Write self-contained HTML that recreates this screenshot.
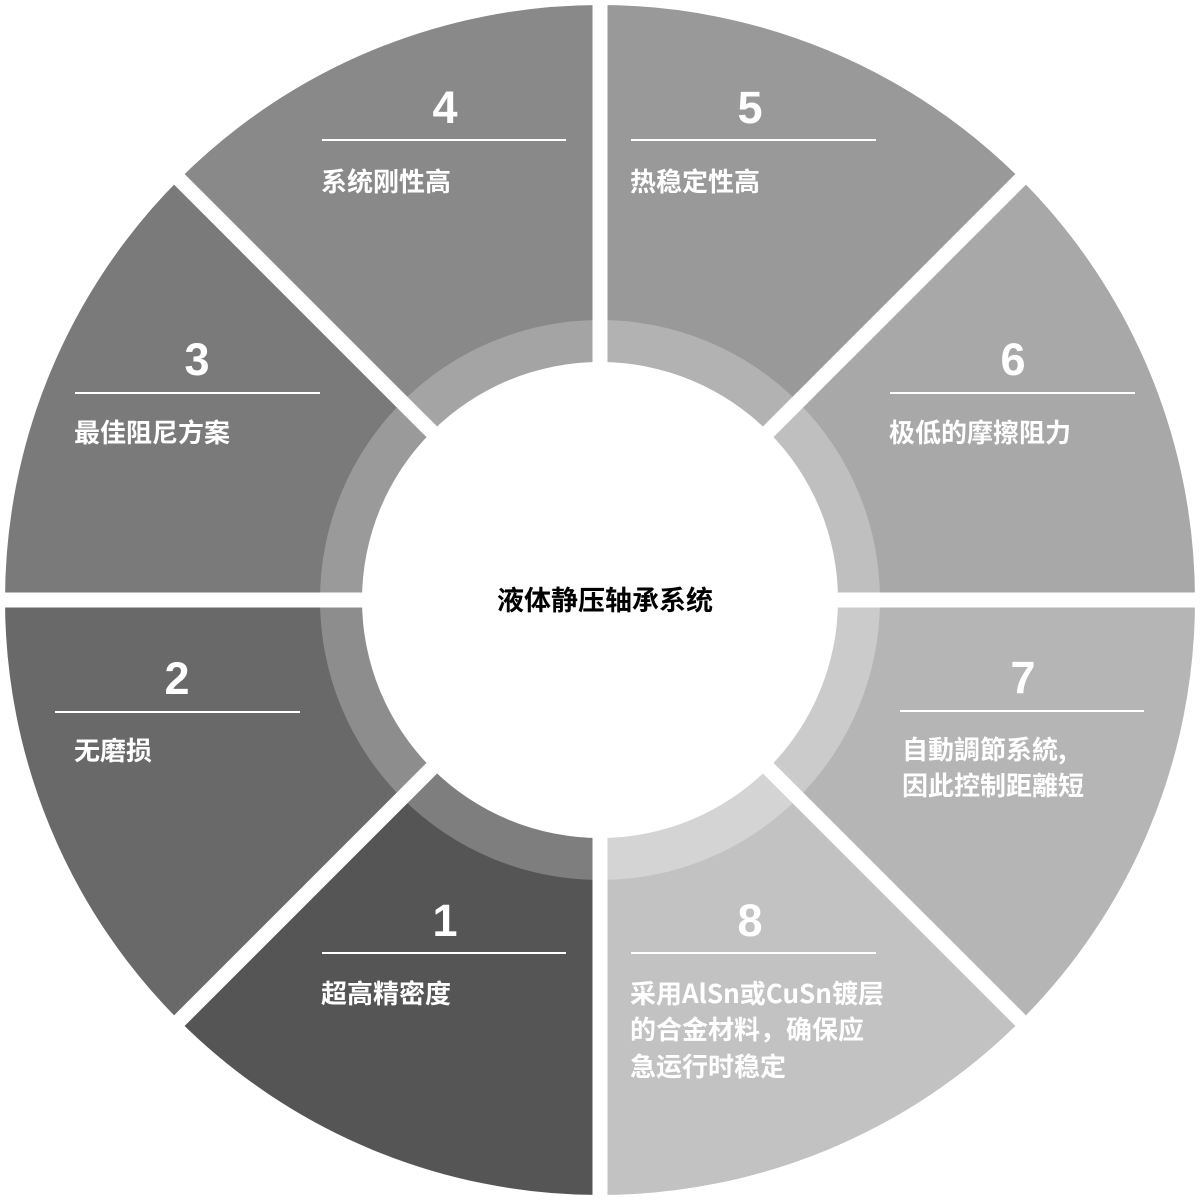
<!DOCTYPE html>
<html><head><meta charset="utf-8"><style>
html,body{margin:0;padding:0;background:#fff}
svg{display:block}
.n{font-family:"Liberation Sans","Noto Sans CJK SC",sans-serif;font-weight:bold;font-size:45px;fill:#fff;text-anchor:middle}
.t{font-family:"Noto Sans CJK SC","Liberation Sans",sans-serif;font-weight:bold;font-size:26px;fill:#fff}
</style></head><body>
<svg width="1200" height="1200" viewBox="0 0 1200 1200" xmlns="http://www.w3.org/2000/svg">
<path d="M600,600 L179.3,179.3 A595,595 0 0 1 600,5 Z" fill="#898989"/>
<path d="M600,600 L600,5 A595,595 0 0 1 1020.7,179.3 Z" fill="#999999"/>
<path d="M600,600 L1020.7,179.3 A595,595 0 0 1 1195,600 Z" fill="#a8a8a8"/>
<path d="M600,600 L1195,600 A595,595 0 0 1 1020.7,1020.7 Z" fill="#b5b5b5"/>
<path d="M600,600 L1020.7,1020.7 A595,595 0 0 1 600,1195 Z" fill="#c2c2c2"/>
<path d="M600,600 L600,1195 A595,595 0 0 1 179.3,1020.7 Z" fill="#555555"/>
<path d="M600,600 L179.3,1020.7 A595,595 0 0 1 5,600 Z" fill="#696969"/>
<path d="M600,600 L5,600 A595,595 0 0 1 179.3,179.3 Z" fill="#7a7a7a"/>
<path d="M600,600 L402,402 A280,280 0 0 1 600,320 Z" fill="#a4a4a4"/>
<path d="M600,600 L600,320 A280,280 0 0 1 798,402 Z" fill="#b2b2b2"/>
<path d="M600,600 L798,402 A280,280 0 0 1 880,600 Z" fill="#bfbfbf"/>
<path d="M600,600 L880,600 A280,280 0 0 1 798,798 Z" fill="#cbcbcb"/>
<path d="M600,600 L798,798 A280,280 0 0 1 600,880 Z" fill="#d4d4d4"/>
<path d="M600,600 L600,880 A280,280 0 0 1 402,798 Z" fill="#7e7e7e"/>
<path d="M600,600 L402,798 A280,280 0 0 1 320,600 Z" fill="#8d8d8d"/>
<path d="M600,600 L320,600 A280,280 0 0 1 402,402 Z" fill="#9a9a9a"/>
<g stroke="#fff" stroke-width="15">
<line x1="600" y1="0" x2="600" y2="1200"/>
<line x1="0" y1="600" x2="1200" y2="600"/>
<line x1="170" y1="170" x2="1030" y2="1030"/>
<line x1="1030" y1="170" x2="170" y2="1030"/>
</g>
<circle cx="600" cy="600" r="238" fill="#fff"/>
<text x="605" y="610" text-anchor="middle" font-family="'Noto Sans CJK SC','Liberation Sans',sans-serif" font-weight="bold" font-size="27" fill="#000">液体静压轴承系统</text>
<g stroke="#fff" stroke-width="2">
<line x1="322" y1="140" x2="566" y2="140"/>
<line x1="631" y1="140" x2="876" y2="140"/>
<line x1="890" y1="393" x2="1135" y2="393"/>
<line x1="75" y1="393" x2="320" y2="393"/>
<line x1="55" y1="712" x2="300" y2="712"/>
<line x1="900" y1="711" x2="1144" y2="711"/>
<line x1="322" y1="953" x2="566" y2="953"/>
<line x1="631" y1="953" x2="876" y2="953"/>
</g>
<text class="n" x="445" y="123">4</text>
<text class="n" x="750" y="123">5</text>
<text class="n" x="1013" y="375">6</text>
<text class="n" x="197" y="375">3</text>
<text class="n" x="177" y="694">2</text>
<text class="n" x="1023" y="693">7</text>
<text class="n" x="445" y="936">1</text>
<text class="n" x="750" y="936">8</text>
<text class="t" x="321" y="191">系统刚性高</text>
<text class="t" x="630" y="191">热稳定性高</text>
<text class="t" x="889" y="442">极低的摩擦阻力</text>
<text class="t" x="74" y="442">最佳阻尼方案</text>
<text class="t" x="74" y="760">无磨损</text>
<text class="t" x="902" y="759">自動調節系統,</text>
<text class="t" x="902" y="795">因此控制距離短</text>
<text class="t" x="321" y="1003">超高精密度</text>
<text class="t" x="630" y="1003">采用AlSn或CuSn镀层</text>
<text class="t" x="630" y="1039">的合金材料，确保应</text>
<text class="t" x="630" y="1076">急运行时稳定</text>
</svg>
</body></html>
